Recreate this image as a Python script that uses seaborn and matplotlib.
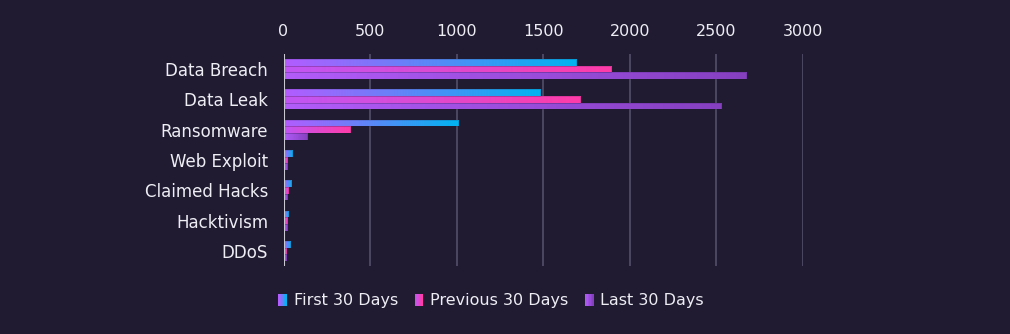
import numpy as np
import pandas as pd
import matplotlib
matplotlib.use("Agg")
import matplotlib.pyplot as plt
import seaborn as sns
from matplotlib.colors import LinearSegmentedColormap
from matplotlib.patches import Patch, Rectangle
from matplotlib.legend_handler import HandlerBase

categories = ["Data Breach", "Data Leak", "Ransomware", "Web Exploit",
              "Claimed Hacks", "Hacktivism", "DDoS"]
first_30 = [1690, 1480, 1005, 50, 42, 27, 37]
previous_30 = [1892, 1713, 382, 19, 27, 19, 12]
last_30 = [2670, 2528, 133, 19, 19, 19, 12]
series_names = ["First 30 Days", "Previous 30 Days", "Last 30 Days"]
x_ticks = [0, 500, 1000, 1500, 2000, 2500, 3000]

BG = "#201b31"
TEXT = "#eeedf4"
grad_colors = {
    "First 30 Days": ("#b45cff", "#00b4f0"),
    "Previous 30 Days": ("#c056f4", "#ff3ca8"),
    "Last 30 Days": ("#b25cfa", "#8540c0"),
}

df = pd.DataFrame({
    "category": categories * 3,
    "series": sum([[s] * len(categories) for s in series_names], []),
    "value": first_30 + previous_30 + last_30,
})

sns.set_theme(style="dark")
plt.rcParams["font.family"] = ["DejaVu Sans"]

fig = plt.figure(figsize=(10.10, 3.34), dpi=100, facecolor=BG)
ax = fig.add_axes([283.5 / 1010, 1 - 266 / 334, (803 - 283.5) / 1010, 212 / 334])
ax.set_facecolor(BG)

sns.barplot(data=df, y="category", x="value", hue="series", orient="h",
            order=categories, hue_order=series_names, width=0.66, gap=0,
            ax=ax, legend=False, zorder=3)

grad = np.linspace(0, 1, 256).reshape(1, -1)
for cont, name in zip(ax.containers, series_names):
    c0, c1 = grad_colors[name]
    cmap = LinearSegmentedColormap.from_list(name, [c0, c1])
    for p in cont.patches:
        x, y = p.get_x(), p.get_y()
        w, h = p.get_width(), p.get_height()
        p.set_facecolor("none")
        p.set_edgecolor((0.12, 0.06, 0.22, 0.2))
        p.set_linewidth(0.5)
        if w <= 0:
            continue
        im = ax.imshow(grad, extent=[x, x + w, y + h, y], aspect="auto",
                       cmap=cmap, zorder=2.5, interpolation="bilinear")
        im.set_clip_path(p)

ax.set_xlim(0, 3000)
ax.set_ylim(6.5, -0.5)
ax.set_aspect("auto")
ax.set_xticks(x_ticks)
ax.xaxis.tick_top()
ax.xaxis.set_label_position("top")
ax.set_xlabel("")
ax.set_ylabel("")
ax.grid(axis="x", color="#4c4762", linewidth=1.4, zorder=0)
ax.grid(axis="y", visible=False)
ax.axvline(0, color="#c9c7d2", linewidth=1.5, zorder=4)
for s in ax.spines.values():
    s.set_visible(False)
ax.tick_params(axis="x", length=0, pad=11, labelsize=11.5, labelcolor=TEXT)
ax.tick_params(axis="y", length=0, pad=11, labelsize=12, labelcolor=TEXT)


class GradHandler(HandlerBase):
    def create_artists(self, legend, orig_handle, xdescent, ydescent,
                       width, height, fontsize, trans):
        c0, c1 = orig_handle.grad
        cmap = LinearSegmentedColormap.from_list("h", [c0, c1])
        n = 6
        arts = []
        for i in range(n):
            r = Rectangle((-xdescent + i * width / n, -ydescent), width / n * 1.05, height,
                          facecolor=cmap(i / (n - 1)), edgecolor="none", transform=trans)
            arts.append(r)
        return arts


handles = []
for n in series_names:
    h = Patch(facecolor=grad_colors[n][1])
    h.grad = grad_colors[n]
    handles.append(h)
fig.legend(handles, series_names, loc="center", bbox_to_anchor=(491 / 1010, 1 - 301 / 334),
           ncol=3, frameon=False, fontsize=11.5, labelcolor=TEXT,
           handler_map={Patch: GradHandler()},
           handlelength=0.55, handleheight=0.75, handletextpad=0.4, columnspacing=1.05)

fig.savefig("out.png", dpi=100, facecolor=BG)
